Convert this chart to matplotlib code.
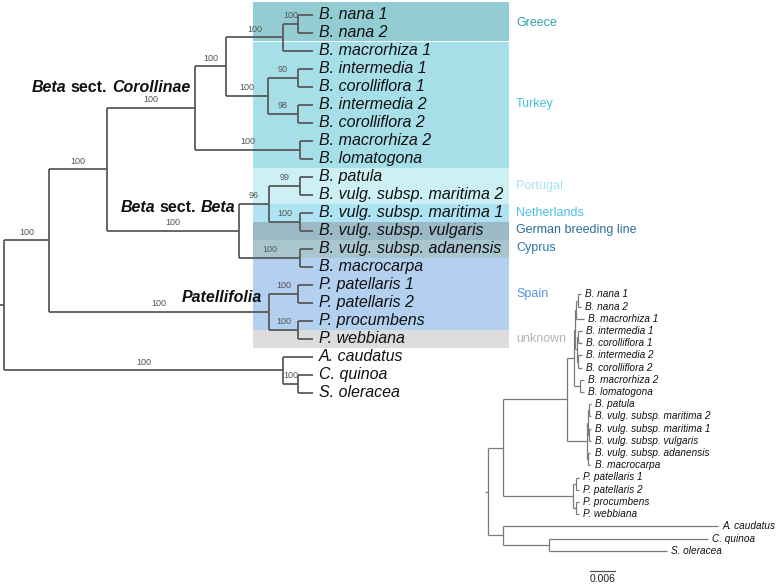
import matplotlib.pyplot as plt
from matplotlib.patches import Rectangle

plt.rcParams['font.family'] = ['Liberation Sans', 'DejaVu Sans']

# main tree: cladogram, branch lengths only for drawing, node labels = bootstrap support
main_tree = (
    "(((((((B. nana 1:15,B. nana 2:15)100:15,B. macrorhiza 1:30)100:57,"
    "((B. intermedia 1:15,B. corolliflora 1:15)90:30,"
    "(B. intermedia 2:15,B. corolliflora 2:15)98:30)100:42)100:31,"
    "(B. macrorhiza 2:13,B. lomatogona:13)100:105)100:88,"
    "(((B. patula:13,B. vulg. subsp. maritima 2:13)99:31,"
    "(B. vulg. subsp. maritima 1:13,B. vulg. subsp. vulgaris:13)100:31)96:30,"
    "(B. vulg. subsp. adanensis:13,B. macrocarpa:13)100:61)100:132)100:58,"
    "((P. patellaris 1:15,P. patellaris 2:15)100:29,"
    "(P. procumbens:15,P. webbiana:15)100:29)100:220)100:45,"
    "(A. caudatus:30,(C. quinoa:15,S. oleracea:15)100:15)100:279):4;"
)

# inset: phylogram with substitutions per site
inset_tree = (
    "(((((((B. nana 1:0.0007,B. nana 2:0.0007):0.0005,B. macrorhiza 1:0.0019):0.0003,"
    "((B. intermedia 1:0.001,B. corolliflora 1:0.001):0.0002,"
    "(B. intermedia 2:0.001,B. corolliflora 2:0.001):0.0002):0.0005):0.0002,"
    "(B. macrorhiza 2:0.001,B. lomatogona:0.001):0.0014):0.0017,"
    "(((B. patula:0.0005,B. vulg. subsp. maritima 2:0.0005):0.0002,"
    "(B. vulg. subsp. maritima 1:0.0005,B. vulg. subsp. vulgaris:0.0005):0.0002):0.0002,"
    "(B. vulg. subsp. adanensis:0.0005,B. macrocarpa:0.0005):0.0003):0.0048):0.0154,"
    "((P. patellaris 1:0.0007,P. patellaris 2:0.0007):0.0008,"
    "(P. procumbens:0.0007,P. webbiana:0.0007):0.0008):0.0168):0.0036,"
    "(A. caudatus:0.0516,(C. quinoa:0.0382,S. oleracea:0.0283):0.011):0.0036):0.0007;"
)
scale_bar = 0.006

regions = ['Greece', 'Turkey', 'Portugal', 'Netherlands', 'German breeding line',
           'Cyprus', 'Spain', 'unknown']
region_first = [0, 2, 9, 11, 12, 13, 14, 18]
region_last = [1, 8, 10, 11, 12, 13, 17, 18]
band_colors = ['#93cdd3', '#a6dfe8', '#cdf0f5', '#ade3f3', '#9cb9c6',
               '#a9c6cf', '#b3d0f0', '#dedddd']
region_text_colors = ['#2ba3a8', '#45c2dc', '#a6e3f0', '#4dbfea', '#2e6e9a',
                      '#2e75a8', '#5595e3', '#b5b5b5']

clade_pieces = [
    [('Beta', 'italic'), ('sect.', 'normal'), ('Corollinae', 'italic')],
    [('Beta', 'italic'), ('sect.', 'normal'), ('Beta', 'italic')],
    [('Patellifolia', 'italic')],
]
clade_pos = [(190, 4.05), (235, 10.75), (262, 15.7)]


def parse_newick(s):
    pos = 0

    def node():
        nonlocal pos
        kids = []
        if s[pos] == '(':
            pos += 1
            kids.append(node())
            while s[pos] == ',':
                pos += 1
                kids.append(node())
            pos += 1
        start = pos
        while s[pos] not in ',():;':
            pos += 1
        label = s[start:pos]
        length = 0.0
        if s[pos] == ':':
            pos += 1
            start = pos
            while s[pos] not in ',();':
                pos += 1
            length = float(s[start:pos])
        return {'label': label, 'length': length, 'children': kids}

    return node()


def layout(node, parent_x, leaves):
    node['px'] = parent_x
    node['x'] = parent_x + node['length']
    if node['children']:
        for c in node['children']:
            layout(c, node['x'], leaves)
        node['y'] = (node['children'][0]['y'] + node['children'][-1]['y']) / 2
    else:
        node['y'] = len(leaves)
        leaves.append(node)


def all_nodes(node):
    out = [node]
    for c in node['children']:
        out += all_nodes(c)
    return out


def draw_tree(ax, root, color, lw):
    for n in all_nodes(root):
        ax.plot([n['px'], n['x']], [n['y'], n['y']], color=color, lw=lw,
                solid_capstyle='butt', zorder=3)
        if n['children']:
            ax.plot([n['x'], n['x']], [n['children'][0]['y'], n['children'][-1]['y']],
                    color=color, lw=lw, solid_capstyle='butt', zorder=3)


fig = plt.figure(figsize=(7.77, 5.85), dpi=100)

# ---- main tree (x in px-like units, y in leaf index) ----
ax = fig.add_axes([0, 0, 1, 1])
ax.set_xlim(0, 777)
ax.set_ylim((585 - 14.5) / 18, -14.5 / 18)
ax.axis('off')

main = parse_newick(main_tree)
leaves = []
layout(main, 0, leaves)

for name, f, l, bc, tc in zip(regions, region_first, region_last, band_colors, region_text_colors):
    top = f - 0.5 - (0.2 if f == 0 else 0)
    ax.add_patch(Rectangle((253, top), 256, l + 0.5 - top, facecolor=bc, edgecolor='none', zorder=1))
    ax.text(516, (f + l) / 2, name, color=tc, fontsize=9, va='center', ha='left', zorder=4)

draw_tree(ax, main, '#5a5a5a', 1.3)

for lf in leaves:
    ax.annotate(lf['label'], (lf['x'], lf['y']), xytext=(4.5, 0), textcoords='offset points',
                fontsize=11.5, fontstyle='italic', va='center', ha='left', color='#111111', zorder=5)

for n in all_nodes(main):
    if n['children'] and n['label']:
        ax.annotate(n['label'], ((n['px'] + n['x']) / 2, n['y']), xytext=(0, 2.5),
                    textcoords='offset points', fontsize=6.5, color='#555555',
                    ha='center', va='bottom', zorder=5)

for pieces, (cx, cy) in zip(clade_pieces, clade_pos):
    t = None
    for txt, style in reversed(pieces):
        if t is None:
            t = ax.text(cx, cy, txt, fontsize=11.5, fontweight='bold', fontstyle=style,
                        ha='right', va='center', color='#111111', zorder=5)
        else:
            t = ax.annotate(txt, xy=(0, 0), xycoords=t, xytext=(-3.2, 0), textcoords='offset points',
                            fontsize=11.5, fontweight='bold', fontstyle=style,
                            ha='right', va='bottom', color='#111111', zorder=5)

# ---- inset phylogram ----
px_per_unit = 25 / scale_bar
ax2 = fig.add_axes([0, 0, 1, 1])
ax2.patch.set_alpha(0)
ax2.set_xlim(-485 / px_per_unit, (777 - 485) / px_per_unit)
ax2.set_ylim((585 - 294.5) / 12.2, -294.5 / 12.2)
ax2.axis('off')

inset = parse_newick(inset_tree)
ileaves = []
layout(inset, 0, ileaves)
draw_tree(ax2, inset, '#7a7a7a', 0.9)

for lf in ileaves:
    ax2.annotate(lf['label'], (lf['x'], lf['y']), xytext=(3, 0), textcoords='offset points',
                 fontsize=7.2, fontstyle='italic', va='center', ha='left', color='#111111')

bar_x = 105 / px_per_unit
bar_y = (571 - 294.5) / 12.2
ax2.plot([bar_x, bar_x + scale_bar], [bar_y, bar_y], color='#555555', lw=0.9)
ax2.annotate(f'{scale_bar}', (bar_x + scale_bar / 2, bar_y), xytext=(0, -2),
             textcoords='offset points', ha='center', va='top', fontsize=7.5, color='#222222')

fig.savefig('out.png', dpi=100)
